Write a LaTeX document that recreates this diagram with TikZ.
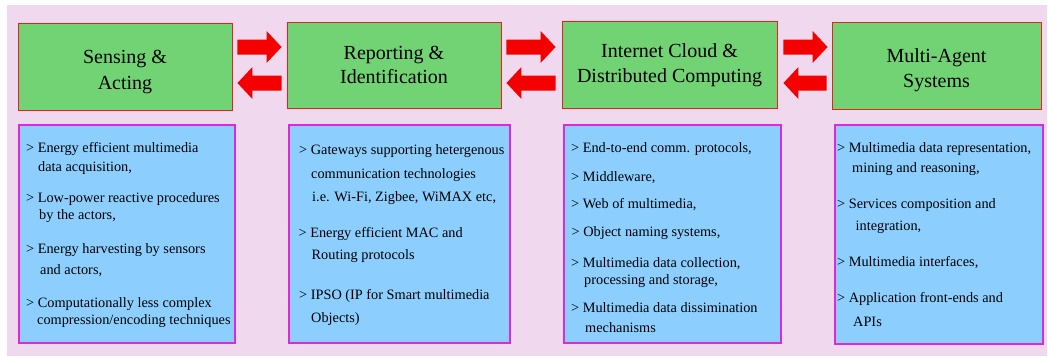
\documentclass[tikz,border=0pt]{standalone}
\usepackage{fontspec}
\setmainfont{Liberation Serif}
\usetikzlibrary{calc}
\definecolor{bgpink}{RGB}{240,217,238}
\definecolor{boxgreen}{RGB}{114,211,116}
\definecolor{boxblue}{RGB}{140,207,255}
\definecolor{arrowred}{RGB}{245,0,0}
\definecolor{edgered}{RGB}{235,30,30}
\definecolor{edgemag}{RGB}{222,40,222}
\newcommand\blockarrow[2]{%
  \fill[arrowred] ($(#1)+(0,-7.5)$) -- ($(#2)!15pt!(#1)+(0,-7.5)$)
    -- ($(#2)!15pt!(#1)+(0,-16)$) -- (#2) -- ($(#2)!15pt!(#1)+(0,16)$)
    -- ($(#2)!15pt!(#1)+(0,7.5)$) -- ($(#1)+(0,7.5)$) -- cycle;}
\begin{document}
\begin{tikzpicture}[x=1pt,y=-1pt,
  gbox/.style={draw=edgered, line width=0.9pt, fill=boxgreen, inner sep=0pt},
  bbox/.style={draw=edgemag, line width=1.2pt, fill=boxblue, inner sep=0pt},
  title/.style={anchor=base, font=\fontsize{20}{25}\selectfont, inner sep=0pt},
  item/.style={anchor=base west, font=\fontsize{14.3}{17}\selectfont, inner sep=0pt}]
\useasboundingbox (0,0) rectangle (1048,356);
\fill[bgpink] (7,5) rectangle (1047,356);
% green boxes
\node[gbox, minimum width=214pt, minimum height=87pt] (g1) at (125,66.5) {};
\node[gbox, minimum width=214pt, minimum height=86pt] (g2) at (394,65) {};
\node[gbox, minimum width=215pt, minimum height=87pt] (g3) at (669.5,64.5) {};
\node[gbox, minimum width=209pt, minimum height=87pt] (g4) at (936.5,65.5) {};
% titles
\node[title] (t1a) at (125,63) {Sensing \&};
\node[title] (t1b) at (125,89) {Acting};
\node[title] (t2a) at (394,59) {Reporting \&};
\node[title] (t2b) at (394,83) {Identification};
\node[title] (t3a) at (669.5,57) {Internet Cloud \&};
\node[title] (t3b) at (669.5,82) {Distributed Computing};
\node[title] (t4a) at (936.5,62) {Multi-Agent};
\node[title] (t4b) at (936.5,87) {Systems};
% arrow end points
\coordinate (ra) at (0,47);
\coordinate (la) at (0,83);
\coordinate (r1s) at ($(g1.east|-ra)+(5,0)$);
\coordinate (r1e) at ($(g2.west|-ra)+(-5,0)$);
\coordinate (l1s) at ($(g2.west|-la)+(-5,0)$);
\coordinate (l1e) at ($(g1.east|-la)+(5,0)$);
\coordinate (r2s) at ($(g2.east|-ra)+(5,0)$);
\coordinate (r2e) at ($(g3.west|-ra)+(-6,0)$);
\coordinate (l2s) at ($(g3.west|-la)+(-6,0)$);
\coordinate (l2e) at ($(g2.east|-la)+(5,0)$);
\coordinate (r3s) at ($(g3.east|-ra)+(6,0)$);
\coordinate (r3e) at ($(g4.west|-ra)+(-4,0)$);
\coordinate (l3s) at ($(g4.west|-la)+(-5,0)$);
\coordinate (l3e) at ($(g3.east|-la)+(6,0)$);
\blockarrow{r1s}{r1e}
\blockarrow{l1s}{l1e}
\blockarrow{r2s}{r2e}
\blockarrow{l2s}{l2e}
\blockarrow{r3s}{r3e}
\blockarrow{l3s}{l3e}
% blue boxes
\node[bbox, minimum width=216pt, minimum height=218pt] (b1) at (127,234) {};
\node[bbox, minimum width=221pt, minimum height=218pt] (b2) at (399.5,234) {};
\node[bbox, minimum width=217pt, minimum height=218pt] (b3) at (672.5,234) {};
\node[bbox, minimum width=208pt, minimum height=219pt] (b4) at (939,234.5) {};
% box 1 items
\node[item] (a1) at (26,152) {> Energy efficient multimedia};
\node[item] (a2) at (38,171) {data acquisition,};
\node[item] (a3) at (26,202) {> Low-power reactive procedures};
\node[item] (a4) at (39,219) {by the actors,};
\node[item] (a5) at (26,253) {> Energy harvesting by sensors};
\node[item] (a6) at (40,274) {and actors,};
\node[item] (a7) at (26,307) {> Computationally less complex};
\node[item] (a8) at (37,324) {compression/encoding techniques};
% box 2 items
\node[item] (c1) at (299,154) {> Gateways supporting hetergenous};
\node[item] (c2) at (311,178) {communication technologies};
\node[item] (c3) at (312,201) {i.e. Wi-Fi, Zigbee, WiMAX etc,};
\node[item] (c4) at (298.5,237) {> Energy efficient MAC and};
\node[item] (c5) at (311.5,259) {Routing protocols};
\node[item] (c6) at (299,299) {> IPSO (IP for Smart multimedia};
\node[item] (c7) at (311,322) {Objects)};
% box 3 items
\node[item] (d1) at (571,152) {> End-to-end comm. protocols,};
\node[item] (d2) at (571,181) {> Middleware,};
\node[item] (d3) at (571,208) {> Web of multimedia,};
\node[item] (d4) at (571.5,236) {> Object naming systems,};
\node[item] (d5) at (571,267) {> Multimedia data collection,};
\node[item] (d6) at (584,284) {processing and storage,};
\node[item] (d7) at (571,312) {> Multimedia data dissimination};
\node[item] (d8) at (585,332) {mechanisms};
% box 4 items
\node[item] (e1) at (837,152) {> Multimedia data representation,};
\node[item] (e2) at (852,172) {mining and reasoning,};
\node[item] (e3) at (837,208) {> Services composition and};
\node[item] (e4) at (855.5,230) {integration,};
\node[item] (e5) at (837,266) {> Multimedia interfaces,};
\node[item] (e6) at (837,302) {> Application front-ends and};
\node[item] (e7) at (853,326) {APIs};
\end{tikzpicture}
\end{document}
